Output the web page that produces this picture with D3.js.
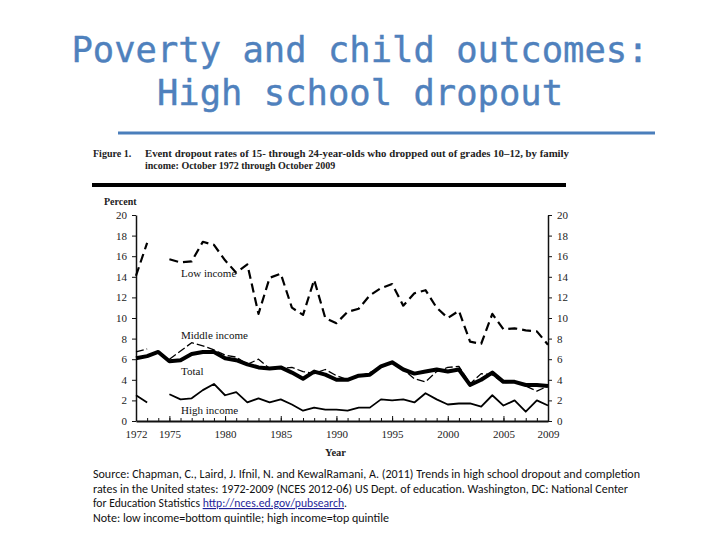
<!DOCTYPE html>
<html>
<head>
<meta charset="utf-8">
<script src="https://cdn.jsdelivr.net/npm/d3@7"></script>
<style>
  html, body { margin: 0; padding: 0; background: #fff; }
  svg { display: block; }
</style>
</head>
<body>
<svg id="chart" width="720" height="540"></svg>
<script>
// ---- data ----
const years = d3.range(1972, 2010);
const lowIncome = [14.1, 17.3, null, 15.7, 15.4, 15.5, 17.4, 17.1, 15.6, 14.4, 15.2, 10.4, 13.9, 14.3, 11.0, 10.3, 13.7, 10.0, 9.5, 10.6, 10.9, 12.2, 12.9, 13.3, 11.2, 12.4, 12.7, 11.0, 10.0, 10.7, 7.7, 7.5, 10.4, 8.9, 9.0, 8.8, 8.7, 7.4];
const middleIncome = [6.7, 7.0, null, 6.0, 6.8, 7.6, 7.3, 6.9, 6.4, 6.2, 5.5, 6.0, 5.1, 5.1, 5.2, 4.8, 4.6, 5.0, 4.4, 4.0, 4.3, 4.7, 5.2, 5.7, 5.0, 4.1, 3.8, 4.8, 5.2, 5.3, 3.6, 4.6, 4.5, 3.7, 3.8, 3.4, 2.9, 3.4];
const total = [6.1, 6.3, 6.7, 5.8, 5.9, 6.5, 6.7, 6.7, 6.1, 5.9, 5.5, 5.2, 5.1, 5.2, 4.7, 4.1, 4.8, 4.5, 4.0, 4.0, 4.4, 4.5, 5.3, 5.7, 5.0, 4.6, 4.8, 5.0, 4.8, 5.0, 3.5, 4.0, 4.7, 3.8, 3.8, 3.5, 3.5, 3.4];
const highIncome = [2.5, 1.8, null, 2.6, 2.1, 2.2, 3.0, 3.6, 2.5, 2.8, 1.8, 2.2, 1.8, 2.1, 1.6, 1.0, 1.3, 1.1, 1.1, 1.0, 1.3, 1.3, 2.1, 2.0, 2.1, 1.8, 2.7, 2.1, 1.6, 1.7, 1.7, 1.4, 2.5, 1.5, 2.0, 0.9, 2.0, 1.5];
const yTicks = [0, 2, 4, 6, 8, 10, 12, 14, 16, 18, 20];
const xTickLabels = [1972, 1975, 1980, 1985, 1990, 1995, 2000, 2005, 2009];
const seriesLabels = ["Low income", "Middle income", "Total", "High income"];
const titleLines = ["Poverty and child outcomes:", "High school dropout"];
const captionLines = ["Event dropout rates of 15- through 24-year-olds who dropped out of grades 10\u201312, by family", "income: October 1972 through October 2009"];
const sourceLines = [
  "Source: Chapman, C., Laird, J. Ifnil, N. and KewalRamani, A. (2011) Trends in high school dropout and completion",
  "rates in the United states: 1972-2009 (NCES 2012-06) US Dept. of education. Washington, DC: National Center",
  "for Education Statistics ",
  "Note: low income=bottom quintile; high income=top quintile"
];
const sourceLink = "http://nces.ed.gov/pubsearch";

// ---- drawing ----
const svg = d3.select("#chart");
const serif = "'Liberation Serif', 'Times New Roman', serif";

// Title
svg.append("g").selectAll("text").data(titleLines).join("text")
  .attr("x", 360).attr("y", (d, i) => 62 + i * 43)
  .attr("text-anchor", "middle")
  .attr("font-family", "'DejaVu Sans Mono', monospace")
  .attr("font-size", 35.5)
  .attr("fill", "#4f81bd")
  .attr("stroke", "#4f81bd").attr("stroke-width", 0.4)
  .text(d => d);

svg.append("line").attr("x1", 118).attr("x2", 655).attr("y1", 133).attr("y2", 133)
  .attr("stroke", "#4a7ebb").attr("stroke-width", 3);

// Caption
svg.append("text").attr("x", 93).attr("y", 157)
  .attr("font-family", serif).attr("font-weight", "bold").attr("font-size", 10)
  .attr("fill", "#222").text("Figure 1.");
svg.append("g").selectAll("text").data(captionLines).join("text")
  .attr("x", 145).attr("y", (d, i) => 157 + i * 12)
  .attr("font-family", serif).attr("font-weight", "bold").attr("font-size", 10)
  .attr("fill", "#222")
  .attr("textLength", (d, i) => i === 0 ? 424 : null)
  .attr("lengthAdjust", "spacingAndGlyphs")
  .text(d => d);

svg.append("rect").attr("x", 92).attr("y", 183).attr("width", 474).attr("height", 4).attr("fill", "#000");

// Scales
const x = d3.scaleLinear().domain([1972, 2009]).range([136, 548]);
const y = d3.scaleLinear().domain([0, 20]).range([421, 215]);

const axisFont = g => g.selectAll("text")
  .attr("font-family", serif).attr("font-size", 11).attr("fill", "#222");

// Left axis
svg.append("g").attr("transform", "translate(136,0)")
  .call(d3.axisLeft(y).tickValues(yTicks).tickSizeInner(4).tickSizeOuter(0).tickPadding(5))
  .call(g => g.select(".domain").attr("stroke", "#111").attr("stroke-width", 1.5))
  .call(g => g.selectAll(".tick line").attr("stroke", "#111"))
  .call(axisFont);

// Right axis
svg.append("g").attr("transform", "translate(548,0)")
  .call(d3.axisRight(y).tickValues(yTicks).tickSizeInner(4).tickSizeOuter(0).tickPadding(5))
  .call(g => g.select(".domain").attr("stroke", "#111").attr("stroke-width", 1.5))
  .call(g => g.selectAll(".tick line").attr("stroke", "#111"))
  .call(axisFont);

// Bottom axis: minor ticks every year
svg.append("g").attr("transform", "translate(0,421)")
  .call(d3.axisBottom(x).tickValues(years).tickSizeInner(-3).tickSizeOuter(0).tickFormat(""))
  .call(g => g.select(".domain").attr("stroke", "#111").attr("stroke-width", 2))
  .call(g => g.selectAll(".tick line").attr("stroke", "#111"));
svg.append("g").attr("transform", "translate(0,421)")
  .call(d3.axisBottom(x).tickValues(xTickLabels).tickSizeInner(-5).tickSizeOuter(0).tickPadding(9).tickFormat(d3.format("d")))
  .call(g => g.select(".domain").remove())
  .call(g => g.selectAll(".tick line").attr("stroke", "#111"))
  .call(axisFont);

svg.append("text").attr("x", 104).attr("y", 205)
  .attr("font-family", serif).attr("font-weight", "bold").attr("font-size", 10)
  .attr("fill", "#222").text("Percent");
svg.append("text").attr("x", 325).attr("y", 456)
  .attr("font-family", serif).attr("font-weight", "bold").attr("font-size", 10.5)
  .attr("fill", "#222").text("Year");

// Lines
const line = d3.line()
  .defined(d => d[1] !== null)
  .x(d => x(d[0])).y(d => y(d[1]));
const pairs = arr => years.map((yr, i) => [yr, arr[i]]);

const series = [
  { data: lowIncome, width: 2.2, dash: "9,5" },
  { data: highIncome, width: 1.8, dash: null },
  { data: middleIncome, width: 1.3, dash: "8,3" },
  { data: total, width: 4, dash: null }
];
svg.append("g").selectAll("path").data(series).join("path")
  .attr("d", d => line(pairs(d.data)))
  .attr("fill", "none")
  .attr("stroke", "#000")
  .attr("stroke-width", d => d.width)
  .attr("stroke-dasharray", d => d.dash)
  .attr("stroke-linejoin", "round");

// Series labels
const labelY = [277, 339, 375, 414];
svg.append("g").selectAll("text").data(seriesLabels).join("text")
  .attr("x", 181).attr("y", (d, i) => labelY[i])
  .attr("font-family", serif).attr("font-size", 11).attr("fill", "#111")
  .text(d => d);

// Source
const src = svg.append("g").attr("font-family", "Carlito, 'Liberation Sans', 'Open Sans', sans-serif")
  .attr("font-size", 11.5).attr("fill", "#111");
const widths = [547, 535, 254, 296];
sourceLines.forEach((s, i) => {
  const t = src.append("text").attr("x", 93).attr("y", 478 + i * 14.5);
  if (widths[i]) t.attr("textLength", widths[i]).attr("lengthAdjust", "spacingAndGlyphs");
  t.append("tspan").text(s);
  if (i === 2) {
    t.append("tspan").attr("fill", "#1f1f99").attr("text-decoration", "underline").text(sourceLink);
    t.append("tspan").text(".");
  }
});
</script>
</body>
</html>
